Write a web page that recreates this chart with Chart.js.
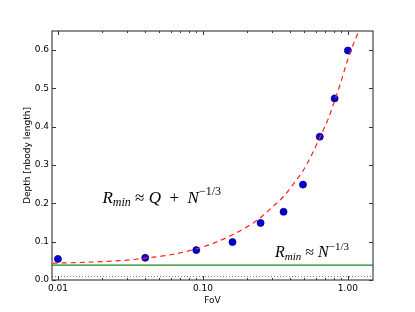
<!DOCTYPE html>
<html>
  <head>
    <meta charset="UTF-8" />
    <title>Depth vs FoV</title>
    <script src="https://cdn.jsdelivr.net/npm/chart.js"></script>
    <style>
      * {
        margin: 0;
        padding: 0;
        box-sizing: border-box;
      }

      body {
        background-color: #fff;
        width: 415px;
        height: 312px;
        overflow: hidden;
      }

      #chart {
        display: block;
      }
    </style>
  </head>
  <body>
    <canvas id="chart" width="415" height="312"></canvas>

    <script>
      // measured points
      const fov = [0.01, 0.04, 0.09, 0.16, 0.25, 0.36, 0.49, 0.64, 0.81, 1.0];
      const depth = [0.055, 0.058, 0.078, 0.099, 0.149, 0.178, 0.249, 0.374, 0.474, 0.599];

      // dashed fit curve
      const fitFov = [0.0092, 0.015, 0.02, 0.03, 0.04, 0.06, 0.09, 0.12, 0.16, 0.2, 0.25, 0.3,
        0.36, 0.42, 0.49, 0.56, 0.64, 0.73, 0.81, 0.9, 1.0, 1.1, 1.19];
      const fitDepth = [0.044, 0.046, 0.048, 0.052, 0.057, 0.066, 0.081, 0.097, 0.118, 0.138, 0.163, 0.19,
        0.218, 0.25, 0.285, 0.325, 0.372, 0.42, 0.468, 0.52, 0.577, 0.619, 0.65];

      // horizontal reference lines
      const floorLevel = 0.039;
      const dottedLevel = 0.009;

      const xRange = [0.0091, 1.49];
      const yRange = [0, 0.65];
      const xTicks = [0.01, 0.1, 1];
      const xTickLabels = ["0.01", "0.10", "1.00"];
      const yTicks = [0, 0.1, 0.2, 0.3, 0.4, 0.5, 0.6];
      const yTickLabels = ["0.0", "0.1", "0.2", "0.3", "0.4", "0.5", "0.6"];

      const tickFont = { family: "DejaVu Sans", size: 9 };
      const serif = "Liberation Serif";

      function toXY(xs, ys) {
        return xs.map((x, i) => ({ x: x, y: ys[i] }));
      }

      function hline(level) {
        return [
          { x: xRange[0], y: level },
          { x: xRange[1], y: level },
        ];
      }

      // draw a bit of math text, parts = [text, kind]
      function drawMath(ctx, parts, cx, cy, size) {
        const fonts = {
          i: "italic " + size + "px " + serif,
          r: size + "px " + serif,
          sub: "italic " + Math.round(size * 0.7) + "px " + serif,
          sup: Math.round(size * 0.7) + "px " + serif,
        };
        const shift = { i: 0, r: 0, sub: size * 0.25, sup: -size * 0.4 };
        let total = 0;
        parts.forEach(([t, k]) => {
          ctx.font = fonts[k];
          total += ctx.measureText(t).width;
        });
        let x = cx - total / 2;
        ctx.fillStyle = "#000";
        ctx.textBaseline = "middle";
        ctx.textAlign = "left";
        parts.forEach(([t, k]) => {
          ctx.font = fonts[k];
          ctx.fillText(t, x, cy + shift[k]);
          x += ctx.measureText(t).width;
        });
      }

      const framePlugin = {
        id: "frame",
        afterDatasetsDraw(chart) {
          const { ctx, chartArea: a, scales } = chart;
          const xs = scales.x;
          const ys = scales.y;
          ctx.save();
          ctx.strokeStyle = "#333";
          ctx.lineWidth = 1;

          // inward ticks
          ctx.beginPath();
          const minor = [];
          [0.01, 0.1, 1].forEach((d) => {
            for (let m = 2; m <= 9; m++) minor.push(d * m);
          });
          minor.forEach((v) => {
            if (v < xRange[0] || v > xRange[1]) return;
            const px = Math.round(xs.getPixelForValue(v)) + 0.5;
            ctx.moveTo(px, a.bottom);
            ctx.lineTo(px, a.bottom - 2);
            ctx.moveTo(px, a.top);
            ctx.lineTo(px, a.top + 2);
          });
          xTicks.forEach((v) => {
            const px = Math.round(xs.getPixelForValue(v)) + 0.5;
            ctx.moveTo(px, a.bottom);
            ctx.lineTo(px, a.bottom - 4);
            ctx.moveTo(px, a.top);
            ctx.lineTo(px, a.top + 4);
          });
          yTicks.forEach((v) => {
            const py = Math.round(ys.getPixelForValue(v)) + 0.5;
            ctx.moveTo(a.left, py);
            ctx.lineTo(a.left + 4, py);
            ctx.moveTo(a.right, py);
            ctx.lineTo(a.right - 4, py);
          });
          ctx.stroke();

          // box
          ctx.lineWidth = 1.2;
          ctx.strokeStyle = "#444";
          ctx.strokeRect(a.left, a.top, a.right - a.left, a.bottom - a.top);

          // annotations
          drawMath(
            ctx,
            [["R", "i"], ["min", "sub"], [" \u2248 ", "r"], ["Q", "i"], ["  +  ", "r"], ["N", "i"], ["\u22121/3", "sup"]],
            xs.getPixelForValue(0.052),
            ys.getPixelForValue(0.212),
            17
          );
          drawMath(
            ctx,
            [["R", "i"], ["min", "sub"], [" \u2248 ", "r"], ["N", "i"], ["\u22121/3", "sup"]],
            xs.getPixelForValue(0.565),
            ys.getPixelForValue(0.07),
            16
          );
          ctx.restore();
        },
      };

      const ctx = document.getElementById("chart").getContext("2d");
      const chart = new Chart(ctx, {
        type: "scatter",
        data: {
          datasets: [
            {
              label: "dotted",
              data: hline(dottedLevel),
              showLine: true,
              borderColor: "#777",
              borderWidth: 1,
              borderDash: [1, 2],
              pointRadius: 0,
            },
            {
              label: "N^-1/3",
              data: hline(floorLevel),
              showLine: true,
              borderColor: "#1a8a1a",
              borderWidth: 1.2,
              pointRadius: 0,
            },
            {
              label: "fit",
              data: toXY(fitFov, fitDepth),
              showLine: true,
              borderColor: "#ff2020",
              borderWidth: 1.2,
              borderDash: [5, 4],
              cubicInterpolationMode: "monotone",
              pointRadius: 0,
            },
            {
              label: "depth",
              data: toXY(fov, depth),
              backgroundColor: "#0000e0",
              borderColor: "#000070",
              borderWidth: 0.8,
              pointRadius: 3.5,
            },
          ],
        },
        options: {
          responsive: false,
          animation: false,
          devicePixelRatio: 1,
          layout: {
            padding: { top: 31, right: 42, left: 0, bottom: 0 },
          },
          plugins: {
            legend: { display: false },
            tooltip: { enabled: false },
          },
          scales: {
            x: {
              type: "logarithmic",
              position: "bottom",
              min: xRange[0],
              max: xRange[1],
              grid: { display: false, drawTicks: false },
              border: { display: false },
              afterBuildTicks: (scale) => {
                scale.ticks = xTicks.map((v) => ({ value: v }));
              },
              afterFit: (scale) => {
                scale.height = 32;
              },
              ticks: {
                autoSkip: false,
                maxRotation: 0,
                padding: 3,
                color: "#000",
                font: tickFont,
                callback: (v) => xTickLabels[xTicks.indexOf(v)] ?? "",
              },
              title: {
                display: true,
                text: "FoV",
                color: "#000",
                font: tickFont,
                padding: { top: 0, bottom: 6 },
              },
            },
            y: {
              min: yRange[0],
              max: yRange[1],
              grid: { display: false, drawTicks: false },
              border: { display: false },
              afterBuildTicks: (scale) => {
                scale.ticks = yTicks.map((v) => ({ value: v }));
              },
              afterFit: (scale) => {
                scale.width = 52;
              },
              ticks: {
                padding: 3,
                color: "#000",
                font: tickFont,
                callback: (v) => yTickLabels[yTicks.indexOf(v)] ?? "",
              },
              title: {
                display: true,
                text: "Depth [nbody length]",
                color: "#000",
                font: tickFont,
                padding: { top: 22, bottom: 0 },
              },
            },
          },
        },
        plugins: [framePlugin],
      });
    </script>
  </body>
</html>
